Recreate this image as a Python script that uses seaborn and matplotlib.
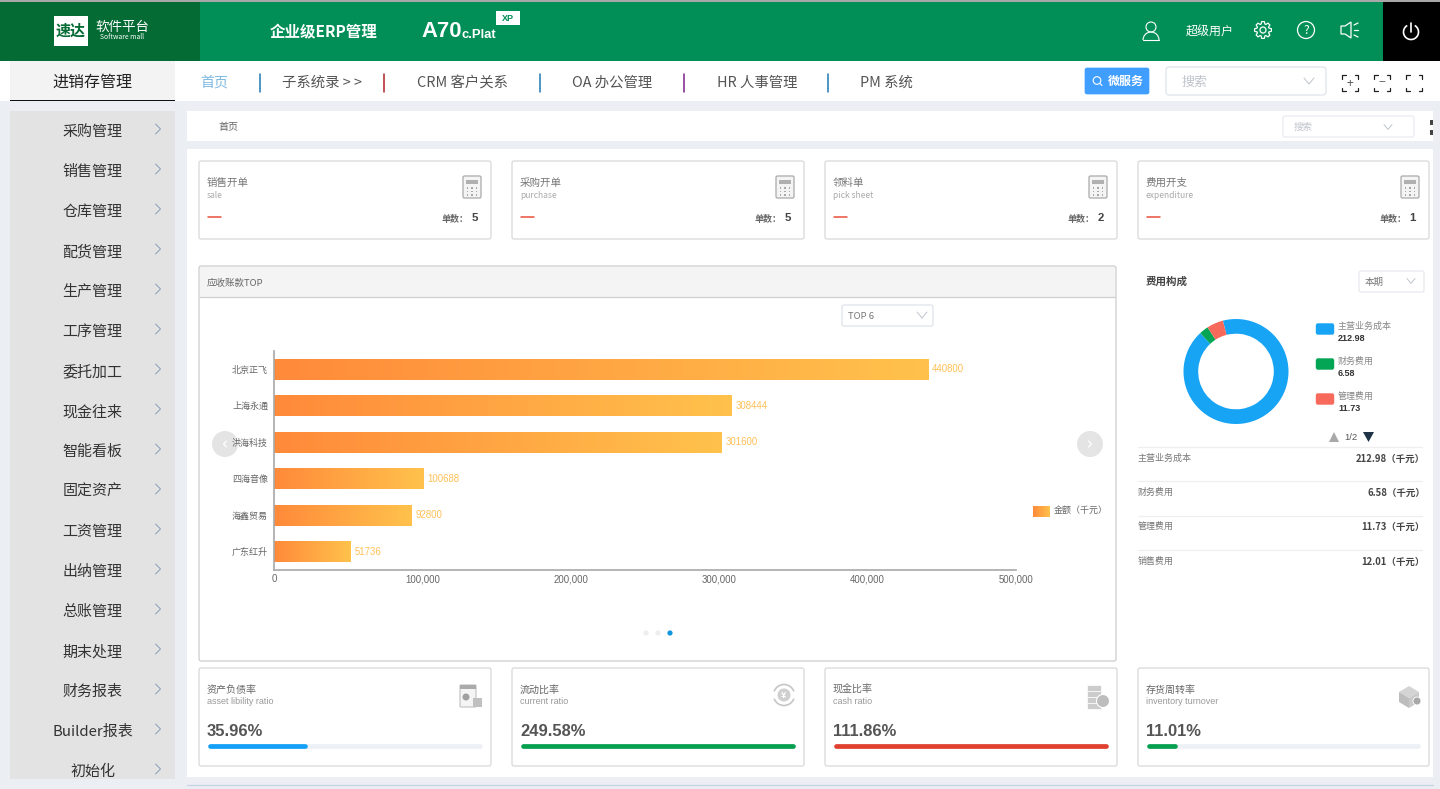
import numpy as np
import pandas as pd
import matplotlib
matplotlib.use("Agg")
import matplotlib.pyplot as plt
import seaborn as sns
from matplotlib.patches import Rectangle, FancyBboxPatch, Circle, Arc, Polygon, Wedge
from matplotlib.colors import LinearSegmentedColormap

# ---------- data ----------
menu_items = ["采购管理", "销售管理", "仓库管理", "配货管理", "生产管理", "工序管理", "委托加工", "现金往来",
              "智能看板", "固定资产", "工资管理", "出纳管理", "总账管理", "期末处理", "财务报表", "Builder报表", "初始化"]
nav_items = ["子系统录 > >", "CRM 客户关系", "OA 办公管理", "HR 人事管理", "PM 系统"]
top_zh = ["销售开单", "采购开单", "领料单", "费用开支"]
top_en = ["sale", "purchase", "pick sheet", "expenditure"]
top_counts = [5, 5, 2, 1]
companies = ["北京正飞", "上海永通", "洪海科技", "四海音像", "海鑫贸易", "广东红升"]
amounts = [440800, 308444, 301600, 100688, 92800, 51736]
x_ticks = [0, 100000, 200000, 300000, 400000, 500000]
pie_names = ["主营业务成本", "财务费用", "管理费用"]
pie_values = [212.98, 6.58, 11.73]
pie_colors = ["#18a4f5", "#04a656", "#f7695a"]
table_names = ["主营业务成本", "财务费用", "管理费用", "销售费用"]
table_values = [212.98, 6.58, 11.73, 12.01]
ratio_zh = ["资产负债率", "流动比率", "现金比率", "存货周转率"]
ratio_en = ["asset libility ratio", "current ratio", "cash ratio", "inventory turnover"]
ratio_values = [35.96, 249.58, 111.86, 11.01]
ratio_colors = ["#14a0f7", "#04a04f", "#e0402f", "#04a04f"]

# ---------- setup ----------
sns.set_theme(style="white")
CJK = ["Noto Sans CJK SC", "DejaVu Sans"]
plt.rcParams["font.family"] = CJK
W, H = 1440, 789
fig = plt.figure(figsize=(W / 100, H / 100), dpi=100, facecolor="#ebeef3")
bg = fig.add_axes([0, 0, 1, 1], zorder=0)
bg.set_xlim(0, W); bg.set_ylim(H, 0); bg.axis("off")


def T(x, y, s, px=12, c="#333333", ha="left", w="normal", fam=None, ax=None):
    (ax or bg).text(x, y + 1, s, fontsize=px * 0.72, color=c, ha=ha, va="center", fontweight=w,
                    family=fam or CJK, zorder=6)


def R(x0, y0, x1, y1, fc, ec="none", lw=0, z=1):
    bg.add_patch(Rectangle((x0, y0), x1 - x0, y1 - y0, fc=fc, ec=ec, lw=lw, zorder=z))


def RR(x0, y0, x1, y1, fc="white", ec="#dcdcdc", lw=1.0, r=2, z=2):
    bg.add_patch(FancyBboxPatch((x0 + r, y0 + r), x1 - x0 - 2 * r, y1 - y0 - 2 * r,
                                boxstyle=f"round,pad={r},rounding_size={r}", fc=fc, ec=ec, lw=lw, zorder=z))


def L(xs, ys, c="#999999", lw=1.0, z=5):
    bg.plot(xs, ys, color=c, lw=lw, zorder=z, solid_capstyle="round", solid_joinstyle="round")


def chevron_right(x, y, c="#7c96b0"):
    L([x - 2.5, x + 2.5, x - 2.5], [y - 5, y, y + 5], c, 0.6)


def chevron_down(x, y, c="#c0c4cc", s=5):
    L([x - s, x, x + s], [y - s * 0.6, y + s * 0.6, y - s * 0.6], c, 0.7)


def brackets(cx, cy, sym=None, c="#222222"):
    s, k = 8, 3.5
    for dx in (-1, 1):
        for dy in (-1, 1):
            L([cx + dx * s, cx + dx * s, cx + dx * (s - k)], [cy + dy * (s - k), cy + dy * s, cy + dy * s], c, 0.9)
    if sym:
        T(cx, cy - 1, sym, 12, "#555555", "center")


def calc_icon(x, y):
    RR(x, y, x + 18, y + 22, "#f4f4f4", "#a9a9a9", 0.9, 1.5, 3)
    R(x + 3, y + 4, x + 15, y + 8, "#b0b0b0", z=4)
    for i in range(3):
        for j in range(3):
            R(x + 3.5 + i * 4.5, y + 11 + j * 3.5, x + 5 + i * 4.5, y + 12.5 + j * 3.5, "#a8a8a8", z=4)


def gear(cx, cy, r1=8.5, r2=6.3, teeth=8):
    pts = []
    step = 2 * np.pi / teeth
    for i in range(teeth):
        a = i * step
        for da, r in ((-0.30, r2), (-0.16, r1), (0.16, r1), (0.30, r2)):
            pts.append([cx + r * np.cos(a + da), cy + r * np.sin(a + da)])
    bg.add_patch(Polygon(pts, closed=True, fc="none", ec="white", lw=0.9, zorder=5))
    bg.add_patch(Circle((cx, cy), 3, fc="none", ec="white", lw=0.9, zorder=5))


# ---------- header ----------
R(0, 0, W, 1.5, "#a8a8a8", z=3)
R(0, 1, 1383, 61, "#028f57")
R(0, 1, 200, 61, "#046b34")
R(1383, 1, W, 61, "#000000")
R(54, 16, 88, 46, "white", z=2)
T(71, 30, "速达", 15, "#046b34", "center", "bold")
T(95, 26, "软件平台", 13.5, "white")
T(100, 36, "Software mall", 6.8, "white")
T(270, 31, "企业级ERP管理", 15.5, "white", w="bold")
T(421, 30, "A70", 22, "white", w="bold", fam=["Liberation Sans"])
T(462, 34, "c.Plat", 13, "white", w="bold", fam=["Liberation Sans"])
R(496, 11, 520, 25, "white", z=2)
T(508, 17, "XP", 9, "#028f57", "center", "bold", fam=["Liberation Sans"])
bg.add_patch(Circle((1151, 27), 5, fc="none", ec="white", lw=0.8, zorder=5))
bg.add_patch(Arc((1151, 40), 16, 16, theta1=180, theta2=360, ec="white", lw=0.8, zorder=5))
L([1143, 1159], [40, 40], "white", 0.8)
T(1186, 31, "超级用户", 12, "white")
gear(1263, 30)
bg.add_patch(Circle((1306, 30), 8.5, fc="none", ec="white", lw=0.9, zorder=5))
T(1306, 29, "?", 12, "white", "center")
bg.add_patch(Polygon([[1341, 26], [1345, 26], [1351, 22], [1351, 38], [1345, 34], [1341, 34]], closed=True,
                     fc="none", ec="white", lw=0.9, zorder=5))
for yy, dy in ((25, -2), (30, 0), (35, 2)):
    L([1354, 1358], [yy, yy + dy], "white", 0.9)
bg.add_patch(Arc((1411, 32), 15, 15, theta1=-60, theta2=240, ec="white", lw=1.2, zorder=5))
L([1411, 1411], [23, 32], "white", 1.2)

# ---------- nav row ----------
R(0, 61, W, 101, "white")
R(10, 61, 175, 100, "#f3f3f3", z=2)
R(10, 100, 175, 101, "#111111", z=3)
T(92.5, 81, "进销存管理", 16, "#222222", "center")
T(200, 82, "首页", 14, "#7fb8e0")
nav_x = [282, 417, 572, 717, 860]
for x, s in zip(nav_x, nav_items):
    T(x, 82, s, 14.4, "#555555")
for x, c in zip([260, 384, 540, 684, 828], ["#1f78b4", "#b01f24", "#1f78b4", "#7d1f8a", "#1f78b4"]):
    L([x, x], [74, 92], c, 1.1)
RR(1085, 68, 1149, 94, "#409eff", "#409eff", 0.5, 2, 3)
bg.add_patch(Circle((1097, 80.5), 3.8, fc="none", ec="white", lw=0.8, zorder=5))
L([1100, 1102], [83.5, 85.5], "white", 0.8)
T(1108, 80.5, "微服务", 12, "white", w="bold")
RR(1166, 67, 1326, 95, "white", "#dfe3ea", 0.9, 3, 3)
T(1181, 81, "搜索", 13, "#c0c4cc")
chevron_down(1309, 81)
brackets(1350, 83, "+")
brackets(1382, 83, "−")
brackets(1414, 83)

# ---------- sidebar ----------
R(10, 111, 175, 779, "#e3e3e3")
for i, s in enumerate(menu_items):
    y = 131 + 40 * i
    T(92.5, y, s, 15, "#333333", "center")
    chevron_right(158, y - 2)

# ---------- content panels ----------
R(187, 111, 1433, 141, "white")
T(218, 126, "首页", 10, "#666666")
RR(1283, 116, 1414, 137, "white", "#e8ebf0", 0.9, 2, 3)
T(1294, 126.5, "搜索", 9.5, "#c0c4cc")
chevron_down(1388, 127, s=4)
R(1430, 120, 1433, 125, "#444444", z=3)
R(1430, 130, 1433, 135, "#444444", z=3)
R(187, 149, 1433, 777, "white")
L([187, 1433], [784.5, 784.5], "#c5d3e2", 0.9)

card_x = [(199, 491), (512, 804), (825, 1117), (1138, 1429)]
for (x0, x1), zh, en, n in zip(card_x, top_zh, top_en, top_counts):
    RR(x0, 161, x1, 239, ec="#d8d8d8", lw=0.9)
    T(x0 + 8, 182, zh, 10.5, "#777777")
    T(x0 + 8, 194, en, 8.5, "#aaaaaa")
    L([x0 + 9, x0 + 22], [216.5, 216.5], "#e8503a", 1.1)
    T(x1 - 22, 218, "单数：", 9, "#666666", "right", w="bold")
    T(x1 - 13, 217, str(n), 11.5, "#444444", "right", "bold", fam=["Liberation Sans"])
    calc_icon(x1 - 28, 176)

# big chart panel
RR(199, 266, 1116, 661, ec="#cccccc", lw=0.9)
bg.add_patch(Rectangle((200, 267), 915, 30, fc="#f4f4f4", ec="none", zorder=3))
L([200, 1115], [297, 297], "#cfcfcf", 0.9)
T(207, 282, "应收账款TOP", 9.5, "#666666")
RR(842, 305, 933, 326, "white", "#dfe3ea", 0.9, 2, 3)
T(848, 315, "TOP 6", 9.5, "#777777")
chevron_down(922, 315, s=5)
bg.add_patch(Circle((225, 444), 13, fc="#e4e4e4", ec="none", zorder=3))
bg.add_patch(Circle((1090, 444), 13, fc="#e4e4e4", ec="none", zorder=3))
L([226.5, 223.5, 226.5], [441, 444, 447], "white", 0.9)
L([1088.5, 1091.5, 1088.5], [441, 444, 447], "white", 0.9)
for x, c in zip([646, 658, 670], ["#eeeeee", "#eeeeee", "#1296db"]):
    bg.add_patch(Circle((x, 633), 2.6, fc=c, ec="none", zorder=3))

# ---------- horizontal bar chart ----------
grad = LinearSegmentedColormap.from_list("g", ["#ff8a3a", "#ffc24c"])
gimg = np.linspace(0, 1, 256).reshape(1, -1)
left, right, top, bottom = 274, 1016, 351, 570
ax = fig.add_axes([left / W, 1 - bottom / H, (right - left) / W, (bottom - top) / H], zorder=2)
ax.patch.set_alpha(0)
df = pd.DataFrame({"company": companies, "amount": amounts})
sns.barplot(data=df, y="company", x="amount", ax=ax, color="#ffa545", width=0.57, orient="h")
ax.set_xlim(x_ticks[0], x_ticks[-1])
ylim = ax.get_ylim()
for bar, v in zip(ax.patches, amounts):
    bx, by, bw, bh = bar.get_x(), bar.get_y(), bar.get_width(), bar.get_height()
    ax.imshow(gimg, extent=(bx, bx + bw, by + bh, by), cmap=grad, aspect="auto", zorder=2)
    bar.set_visible(False)
    ax.text(bx + bw + 2700, by + bh / 2, str(v), color="#ffbf55", fontsize=6.9, va="center", ha="left",
            family=["Liberation Sans"])
ax.set_xlim(x_ticks[0], x_ticks[-1])
ax.set_ylim(ylim)
ax.set_xlabel(""); ax.set_ylabel("")
ax.set_xticks(x_ticks)
ax.set_xticklabels([f"{v:,}" for v in x_ticks], fontsize=6.9, color="#666666", family=["Liberation Sans"])
ax.tick_params(axis="x", length=2.5, width=0.6, color="#cccccc", pad=0.6)
ax.tick_params(axis="y", length=3, width=0.6, color="#dddddd", labelsize=6.5, labelcolor="#666666", pad=1.3)
sns.despine(ax=ax)
for sp in ("left", "bottom"):
    ax.spines[sp].set_color("#a8a8a8")
    ax.spines[sp].set_linewidth(1.2)

# chart legend
leg_ax = fig.add_axes([1033 / W, 1 - 517 / H, 17 / W, 11 / H], zorder=2)
leg_ax.imshow(gimg, cmap=grad, aspect="auto")
leg_ax.axis("off")
T(1054, 509.5, "金额（千元）", 9, "#666666")

# ---------- right panel: donut ----------
T(1146, 281, "费用构成", 10.5, "#444444", w="bold")
RR(1359, 271, 1424, 292, "white", "#e6e9ee", 0.9, 2, 3)
T(1365, 281, "本期", 9.5, "#777777")
chevron_down(1411, 281, s=4)
cx, cy, r_out = 1236, 371.5, 52.5
pie_ax = fig.add_axes([(cx - r_out) / W, 1 - (cy + r_out) / H, 2 * r_out / W, 2 * r_out / H], zorder=2)
pie_ax.pie(pie_values, colors=pie_colors, startangle=104.5, counterclock=False, radius=1.0,
           wedgeprops=dict(width=0.28, linewidth=0))
pie_ax.set_xlim(-1, 1); pie_ax.set_ylim(-1, 1)
for i, (n, v, c) in enumerate(zip(pie_names, pie_values, pie_colors)):
    y = 329 + 35 * i
    RR(1316, y - 5.5, 1334, y + 5.5, c, c, 0.3, 2, 3)
    T(1338, y - 4, n, 9, "#888888")
    T(1338, y + 8.5, f"{v:.2f}", 9, "#333333", w="bold", fam=["Liberation Sans"])
bg.add_patch(Polygon([[1329, 442], [1339, 442], [1334, 432]], closed=True, fc="#a8a8a8", ec="none", zorder=4))
T(1351, 436, "1/2", 9.5, "#555555", "center", fam=["Liberation Sans"])
bg.add_patch(Polygon([[1363, 432], [1374, 432], [1368.5, 442]], closed=True, fc="#1f3347", ec="none", zorder=4))
for i, (n, v) in enumerate(zip(table_names, table_values)):
    y0 = 447 + 34.3 * i
    L([1138, 1422], [y0, y0], "#efefef", 0.9)
    T(1138, y0 + 10, n, 9, "#777777")
    T(1425, y0 + 10.5, f"{v:.2f}（千元）", 9.5, "#444444", "right", w="bold")

# ---------- bottom ratio cards ----------
for k, ((x0, x1), zh, en, v, c) in enumerate(zip(card_x, ratio_zh, ratio_en, ratio_values, ratio_colors)):
    RR(x0, 668, x1, 766, ec="#d8d8d8", lw=0.9)
    T(x0 + 8, 689, zh, 10, "#666666")
    T(x0 + 8, 700, en, 9, "#999999", fam=["Liberation Sans"])
    T(x0 + 8, 730, f"{v:.2f}%", 16.5, "#555555", w="bold", fam=["Liberation Sans"])
    bx0, bx1 = x0 + 9, x1 - 9
    L([bx0 + 2, bx1 - 2], [746, 746], "#edf0f5", 3.4)
    L([bx0 + 2, bx0 + (bx1 - bx0) * min(v, 100) / 100 - 2], [746, 746], c, 3.4)

# icons on ratio cards
g = "#c6c6c6"
RR(460, 685, 476, 707, "#f4f4f4", g, 0.9, 1, 3)
R(460, 685, 476, 689, "#aaaaaa", z=4)
bg.add_patch(Circle((466, 697), 3.5, fc="#a0a0a0", ec="none", zorder=4))
R(473, 698, 482, 707, "#c0c0c0", z=4)
bg.add_patch(Circle((784, 695), 6.5, fc="#cfcfcf", ec="none", zorder=4))
T(784, 694, "¥", 9, "white", "center", "bold")
bg.add_patch(Arc((784, 695), 21, 21, theta1=200, theta2=340, ec=g, lw=1.2, zorder=4))
bg.add_patch(Arc((784, 695), 21, 21, theta1=20, theta2=160, ec=g, lw=1.2, zorder=4))
for yy in (688, 694, 700, 706):
    bg.add_patch(Rectangle((1087, yy - 3), 14, 6, fc="#cccccc", ec="white", lw=0.5, zorder=4))
bg.add_patch(Wedge((1103, 701), 6.5, 0, 360, fc="#bdbdbd", ec="white", lw=0.8, zorder=5))
bg.add_patch(Polygon([[1399, 692], [1409, 686], [1419, 692], [1409, 698]], closed=True, fc="#d4d4d4", ec="none", zorder=4))
bg.add_patch(Polygon([[1399, 692], [1409, 698], [1409, 708], [1399, 702]], closed=True, fc="#bdbdbd", ec="none", zorder=4))
bg.add_patch(Polygon([[1419, 692], [1409, 698], [1409, 708], [1419, 702]], closed=True, fc="#c9c9c9", ec="none", zorder=4))
bg.add_patch(Circle((1417, 701), 4, fc="#a8a8a8", ec="white", lw=0.6, zorder=5))

fig.savefig("out.png", dpi=100, facecolor=fig.get_facecolor())
